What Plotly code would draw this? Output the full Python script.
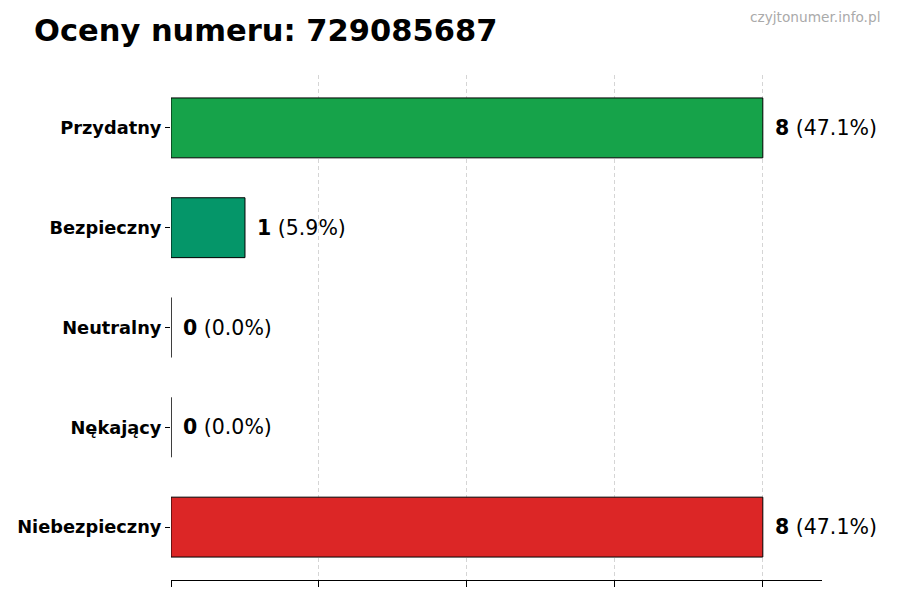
import plotly.graph_objects as go

categories = ["Przydatny", "Bezpieczny", "Neutralny", "Nękający", "Niebezpieczny"]
counts = [8, 1, 0, 0, 8]
colors = ["#16a34a", "#059669", "#9ca3af", "#f59e0b", "#dc2626"]
number = "729085687"

total = sum(counts)
pos = list(range(len(categories)))[::-1]

fig = go.Figure()
fig.add_trace(go.Bar(
    x=counts, y=pos, orientation="h", width=0.6,
    marker=dict(color=colors, line=dict(color="black", width=1)),
    hoverinfo="skip", showlegend=False,
))

for c, p in zip(counts, pos):
    pct = 100 * c / total if total else 0
    fig.add_annotation(x=c, y=p, xref="x", yref="y", xanchor="left", xshift=10,
                       showarrow=False,
                       text=f"<b>{c}</b> ({pct:.1f}%)",
                       font=dict(size=20.5, color="black"))

fig.update_layout(
    width=900, height=600,
    margin=dict(l=171, r=78, t=75, b=20),
    plot_bgcolor="white", paper_bgcolor="white",
    font=dict(family="DejaVu Sans", color="black"),
    title=dict(text=f"<b>Oceny numeru: {number}</b>", x=34 / 900, xanchor="left",
               y=1 - 30 / 600, yanchor="middle", font=dict(size=30.5)),
)
fig.add_annotation(text="czyjtonumer.info.pl", xref="paper", yref="paper",
                   x=1, y=1, xshift=60, yshift=58, xanchor="right", yanchor="middle",
                   showarrow=False, font=dict(size=13.7, color="#aaaaaa"))

fig.update_xaxes(range=[0, 8.8], tickvals=[0, 2, 4, 6, 8], showticklabels=False,
                 ticks="outside", ticklen=6, tickcolor="black",
                 showgrid=True, gridcolor="rgba(150,150,150,0.4)", griddash="4px,3px", gridwidth=1,
                 showline=True, linecolor="black", linewidth=1, zeroline=False,
                 layer="above traces")
fig.update_yaxes(range=[-0.53, 4.53], tickvals=pos, ticktext=[f"<b>{c}</b>" for c in categories],
                 ticks="outside", ticklen=5, tickcolor="black", showgrid=False,
                 showline=False, zeroline=False, tickfont=dict(size=17.8))

fig.write_html("out.html", config={"displayModeBar": False},
               post_script="document.body.style.margin='0';")
